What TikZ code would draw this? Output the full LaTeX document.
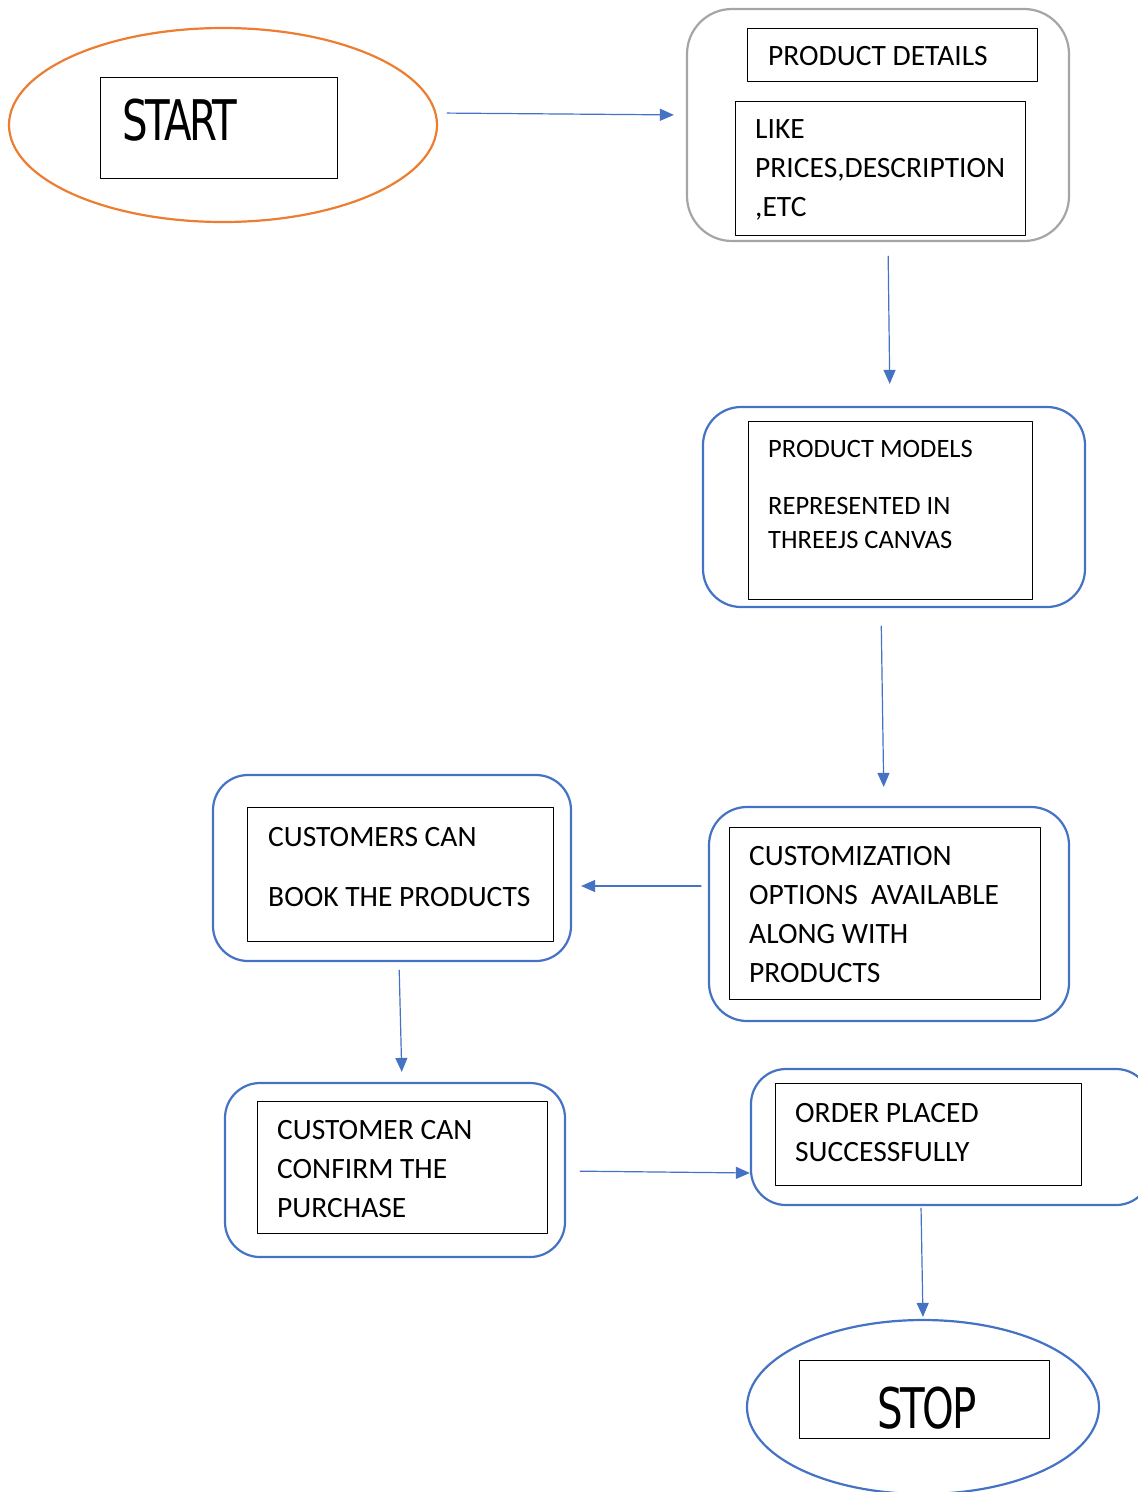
\documentclass[tikz,border=0pt]{standalone}
\usepackage{fontspec}
\setmainfont{Carlito}
\newfontfamily\termfont[LetterSpace=-6]{DejaVu Sans}
\usetikzlibrary{arrows.meta, shapes.geometric}
\definecolor{flowblue}{HTML}{4472C4}
\definecolor{flowgray}{HTML}{A5A5A5}
\definecolor{floworange}{HTML}{ED7D31}
\tikzset{
  outerbox/.style={draw=flowblue, line width=2.2pt, rounded corners=38pt, inner sep=0pt},
  innerbox/.style={draw=black, line width=0.9pt, inner sep=0pt},
  termshape/.style={ellipse, line width=2.2pt, inner sep=0pt},
  flowtext/.style={anchor=base west, inner sep=0pt, align=left, font=\fontsize{29.5}{39}\selectfont},
  termtext/.style={inner sep=0pt, font=\termfont\fontsize{56}{56}\selectfont},
  flowarrow/.style={draw=flowblue, line width=1.2pt, -{Triangle[length=14pt, width=12pt]}}
}
\begin{document}
\begin{tikzpicture}[x=1pt, y=-1pt, line join=round, line cap=round]
\useasboundingbox (0,0) rectangle (1138,1492);
\begin{scope}
\clip (0,0) rectangle (1138,1492);
\node[termshape, draw=floworange, minimum width=428pt, minimum height=194pt] (start) at (223,125) {};
\node[innerbox, minimum width=237pt, minimum height=101pt] (startbox) at (218.5,127.5) {};
\node[termtext, anchor=base west] (starttext) at (122,140) {\scalebox{0.72}[1]{START}};
\node[outerbox, draw=flowgray, rounded corners=45pt, minimum width=382pt, minimum height=232pt] (details) at (878,125) {};
\node[innerbox, minimum width=290pt, minimum height=53pt] (detailstitle) at (892,54.5) {};
\node[flowtext] (detailstitletext) at (768,65) {PRODUCT DETAILS};
\node[innerbox, minimum width=290pt, minimum height=134pt] (detailsbox) at (880,168) {};
\node[flowtext] (detailstext) at (755,216) {LIKE\\PRICES,DESCRIPTION\\,ETC};
\node[outerbox, minimum width=382pt, minimum height=200pt] (models) at (894,507) {};
\node[innerbox, minimum width=284pt, minimum height=178pt] (modelsbox) at (890,510) {};
\node[flowtext, font=\fontsize{26.5}{34}\selectfont] (modelstext) at (768,548) {PRODUCT MODELS\\[23pt]REPRESENTED IN\\THREEJS CANVAS};
\node[outerbox, minimum width=360pt, minimum height=214pt] (custom) at (889,914) {};
\node[innerbox, minimum width=311pt, minimum height=172pt] (custombox) at (884.5,913) {};
\node[flowtext] (customtext) at (749,982) {CUSTOMIZATION\\OPTIONS~~AVAILABLE\\ALONG WITH\\PRODUCTS};
\node[outerbox, rounded corners=35pt, minimum width=358pt, minimum height=186pt] (book) at (392,868) {};
\node[innerbox, minimum width=306pt, minimum height=134pt] (bookbox) at (400,874) {};
\node[flowtext] (booktext) at (268,906) {CUSTOMERS CAN\\[21pt]BOOK THE PRODUCTS};
\node[outerbox, rounded corners=35pt, minimum width=340pt, minimum height=174pt] (confirm) at (395,1170) {};
\node[innerbox, minimum width=290pt, minimum height=132pt] (confirmbox) at (402,1167) {};
\node[flowtext] (confirmtext) at (277,1217) {CUSTOMER CAN\\CONFIRM THE\\PURCHASE};
\node[outerbox, rounded corners=35pt, minimum width=400pt, minimum height=136pt] (order) at (951,1137) {};
\node[innerbox, minimum width=306pt, minimum height=102pt] (orderbox) at (928,1134) {};
\node[flowtext] (ordertext) at (795,1161) {ORDER PLACED\\SUCCESSFULLY};
\node[termshape, draw=flowblue, minimum width=352pt, minimum height=174pt] (stop) at (923,1407) {};
\node[innerbox, minimum width=250pt, minimum height=78pt] (stopbox) at (924,1399) {};
\node[termtext, anchor=base] (stoptext) at (927,1428) {\scalebox{0.72}[1]{STOP}};
\end{scope}
\draw[flowarrow, shorten <=9pt, shorten >=12pt] ([yshift=12pt]start.east) -- ([yshift=10pt]details.west);
\draw[flowarrow, shorten <=14pt, shorten >=22pt] ([xshift=10pt]details.south) -- ([xshift=-4pt]models.north);
\draw[flowarrow, shorten <=18pt, shorten >=19pt] ([xshift=-13pt]models.south) -- ([xshift=-5pt]custom.north);
\draw[flowarrow, shorten <=7pt, shorten >=9pt] ([yshift=28pt]custom.west) -- ([yshift=-18pt]book.east);
\draw[flowarrow, shorten <=8pt, shorten >=10pt] ([xshift=7pt]book.south) -- ([xshift=7pt]confirm.north);
\draw[flowarrow, shorten <=14pt, shorten >=0pt] ([yshift=-1pt]confirm.east) -- ([yshift=-36pt]order.west);
\draw[flowarrow, shorten <=2pt, shorten >=2pt] ([xshift=-30pt]order.south) -- (stop.north);
\end{tikzpicture}
\end{document}
